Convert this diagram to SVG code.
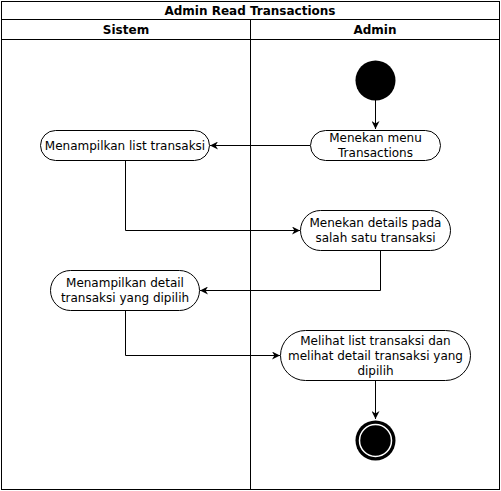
<svg xmlns="http://www.w3.org/2000/svg" width="501" height="491" viewBox="0 0 501 491">
<style>
.lane{fill:none;stroke:#000;stroke-width:1}
.hd{font-family:"DejaVu Sans",Verdana,sans-serif;font-size:12px;font-weight:bold;text-anchor:middle;fill:#000}
.act{fill:#fff;stroke:#000;stroke-width:1}
.t{font-family:"DejaVu Sans",Verdana,sans-serif;font-size:12px;text-anchor:middle;fill:#000}
.c{fill:none;stroke:#000;stroke-width:1}
</style>
<defs>
<marker id="ah" viewBox="0 0 10 10" refX="10" refY="5" markerWidth="8" markerHeight="8" markerUnits="userSpaceOnUse" orient="auto">
<path d="M0,0 L10,5 L0,10 L3,5 Z" fill="#000"/>
</marker>
</defs>
<g id="pool">
<rect class="lane" x="1.5" y="1.5" width="498" height="488"/>
<line class="lane" x1="1.5" y1="19.5" x2="499.5" y2="19.5"/>
<line class="lane" x1="1.5" y1="39.5" x2="499.5" y2="39.5"/>
<line class="lane" x1="250.5" y1="19.5" x2="250.5" y2="489.5"/>
<text class="hd" x="250" y="14.5">Admin Read Transactions</text>
<text class="hd" x="126" y="34">Sistem</text>
<text class="hd" x="375" y="34">Admin</text>
</g>
<g id="connectors">
<path class="c" d="M375.5,100 V129" marker-end="url(#ah)"/>
<path class="c" d="M310,145.5 H210" marker-end="url(#ah)"/>
<path class="c" d="M125.5,160 V230.5 H300" marker-end="url(#ah)"/>
<path class="c" d="M380.5,250 V290.5 H200" marker-end="url(#ah)"/>
<path class="c" d="M125.5,310 V355.5 H280" marker-end="url(#ah)"/>
<path class="c" d="M375.5,380 V419" marker-end="url(#ah)"/>
</g>
<g id="start"><circle cx="375.5" cy="80.5" r="20" fill="#000"/></g>
<g id="n1">
<rect class="act" x="310.5" y="130.5" width="130" height="30" rx="15"/>
<text class="t" x="375.5" y="142">Menekan menu</text>
<text class="t" x="375.5" y="157">Transactions</text>
</g>
<g id="n2">
<rect class="act" x="40.5" y="130.5" width="169" height="30" rx="15"/>
<text class="t" x="125" y="149.5">Menampilkan list transaksi</text>
</g>
<g id="n3">
<rect class="act" x="300.5" y="210.5" width="150" height="40" rx="20"/>
<text class="t" x="375.5" y="227">Menekan details pada</text>
<text class="t" x="375.5" y="242">salah satu transaksi</text>
</g>
<g id="n4">
<rect class="act" x="50.5" y="270.5" width="149" height="40" rx="20"/>
<text class="t" x="125" y="287">Menampilkan detail</text>
<text class="t" x="125" y="302">transaksi yang dipilih</text>
</g>
<g id="n5">
<rect class="act" x="280.5" y="330.5" width="190" height="50" rx="25"/>
<text class="t" x="375.5" y="345">Melihat list transaksi dan</text>
<text class="t" x="375.5" y="360">melihat detail transaksi yang</text>
<text class="t" x="375.5" y="375">dipilih</text>
</g>
<g id="end">
<circle cx="375.5" cy="440.5" r="20" fill="#000"/>
<circle cx="375.5" cy="440.5" r="16" fill="none" stroke="#fff" stroke-width="1.5"/>
</g>
</svg>
